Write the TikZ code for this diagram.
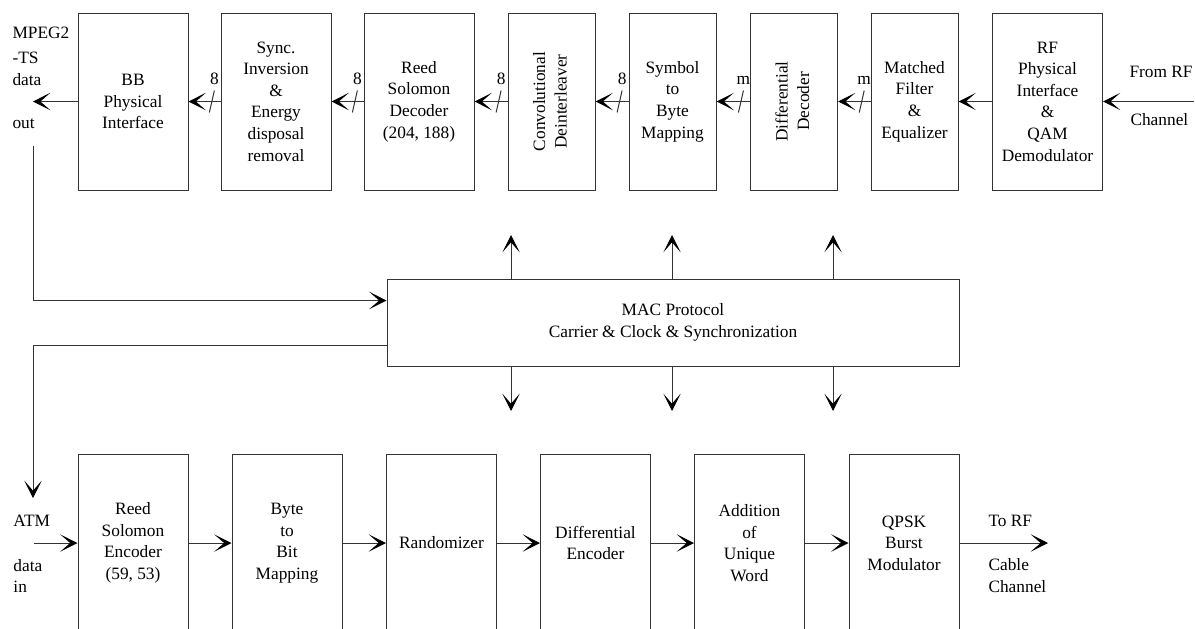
\documentclass[tikz,border=0pt]{standalone}
\usepackage{fontspec}
\setmainfont{Liberation Serif}
\usetikzlibrary{arrows.meta,calc}

\begin{document}
\begin{tikzpicture}[x=0.75pt, y=-0.75pt, line width=0.75pt, font=\fontsize{13}{16.2}\selectfont]
	\tikzset{blk/.style={draw=black!80, align=center, inner sep=2pt, minimum width=82.5pt, minimum height=132.75pt},
		nrw/.style={blk, minimum width=65.25pt},
		side/.style={anchor=west, inner sep=0pt},
		ln/.style={draw=black!80},
		arr/.style={ln, -{Stealth[length=13pt, width=13pt, inset=7.5pt, black]}}}
	\useasboundingbox (0,0) rectangle (1195,628);
	% receiver chain
	\node[blk] (bb) at (133,101.5) {BB\\Physical\\Interface};
	\node[blk] (sync) at (276,101.5) {Sync.\\Inversion\\\&\\Energy\\disposal\\removal};
	\node[blk] (rsd) at (419,101.5) {Reed\\Solomon\\Decoder\\(204, 188)};
	\node[nrw] (conv) at (551.5,101.5) {\rotatebox{90}{\begin{tabular}{@{}c@{}}Convolutional\\Deinterleaver\end{tabular}}};
	\node[nrw] (sym) at (672.5,101.5) {Symbol\\to\\Byte\\Mapping};
	\node[nrw] (ddec) at (794,101.5) {\rotatebox{90}{\begin{tabular}{@{}c@{}}Differential\\Decoder\end{tabular}}};
	\node[nrw] (mf) at (914.5,101.5) {Matched\\Filter\\\&\\Equalizer};
	\node[blk] (rf) at (1047.5,101.5) {RF\\Physical\\Interface\\\&\\QAM\\Demodulator};
	% MAC
	\node[blk, minimum width=429pt, minimum height=65.25pt] (mac) at (673,322.5) {MAC Protocol\\Carrier \& Clock \& Synchronization};
	% transmitter chain
	\node[blk] (rse) at (133,543) {Reed\\Solomon\\Encoder\\(59, 53)};
	\node[blk] (byte) at (287,543) {Byte\\to\\Bit\\Mapping};
	\node[blk] (rand) at (441.5,543) {Randomizer};
	\node[blk] (denc) at (595.5,543) {Differential\\Encoder};
	\node[blk] (add) at (749.5,543) {Addition\\of\\Unique\\Word};
	\node[blk] (qpsk) at (904,543) {QPSK\\Burst\\Modulator};
	% outer labels
	\node[side] (mp1) at (12,33) {MPEG2};
	\node[side] (mp2) at (12,58) {-TS};
	\node[side] (mp3) at (12,80) {data};
	\node[side] (mp4) at (12,124) {out};
	\node[side] (rf1) at (1129,72) {From RF};
	\node[side] (rf2) at (1130,120) {Channel};
	\node[side] (at1) at (13,521) {ATM};
	\node[side] (at2) at (13,566) {data};
	\node[side] (at3) at (13,587) {in};
	\node[side] (to1) at (988,521) {To RF};
	\node[side] (to2) at (988,565) {Cable};
	\node[side] (to3) at (988,587) {Channel};
	\path (33,101.5) coordinate (mpout)
		(1194,101.5) coordinate (rfin)
		(33,146) coordinate (lp)
		(33,498) coordinate (atmdn)
		(34,543) coordinate (atmin)
		(1048,543) coordinate (rfout)
		($(mac.north west)!0.25!(mac.south west)$) coordinate (macin)
		($(mac.north west)!0.76!(mac.south west)$) coordinate (macout);
	% connectors
	\draw[arr] (rfin) -- (rf);
	\draw[arr] (rf) -- (mf);
	\foreach\a/\b/\w in {mf/ddec/m,ddec/sym/m,sym/conv/8,conv/rsd/8,rsd/sync/8,sync/bb/8}{
		\draw[arr] (\a) -- (\b) coordinate[pos=0.27] (k);
		\draw[ln] ($(k)+(-2.5,11)$) -- ($(k)+(2.5,-11)$) node[above=1pt]{\w};
	}
	\draw[arr] (bb) -- (mpout);
	\draw[arr] (lp) |- (macin);
	\draw[arr] (macout) -| (atmdn);
	\foreach\x in {511,672,833}{
		\path (\x,235) coordinate (up) (\x,411) coordinate (dn);
		\draw[arr] (up |- mac.north) -- (up);
		\draw[arr] (dn |- mac.south) -- (dn);
	}
	\draw[arr] (atmin) -- (rse);
	\foreach\a/\b in {rse/byte,byte/rand,rand/denc,denc/add,add/qpsk} \draw[arr] (\a) -- (\b);
	\draw[arr] (qpsk) -- (rfout);
\end{tikzpicture}
\end{document}
